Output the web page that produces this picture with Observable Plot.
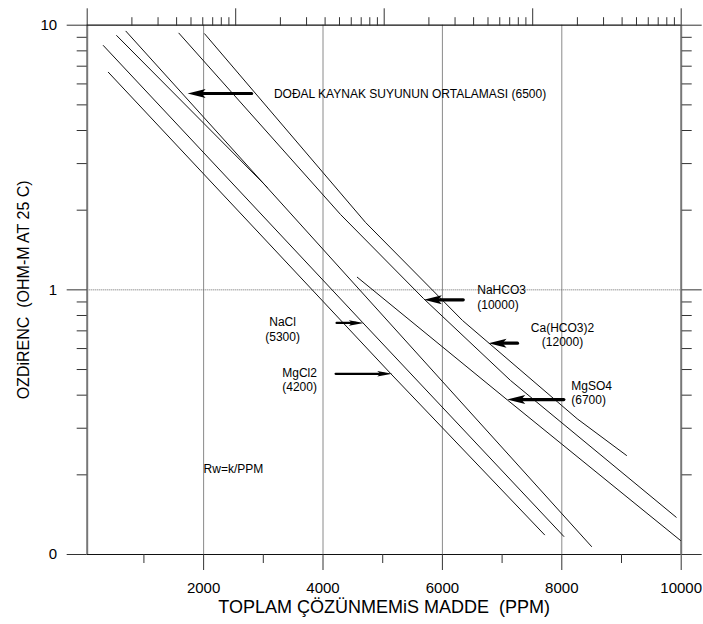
<!DOCTYPE html>
<html><head><meta charset="utf-8">
<script src="https://cdn.jsdelivr.net/npm/d3@7"></script>
<script src="https://cdn.jsdelivr.net/npm/@observablehq/plot@0.6"></script>
<style>
html,body{margin:0;padding:0;background:#fff;}
svg text{white-space:pre;}
</style></head><body><div id="chart"></div>
<script>
// ---- axes / ticks ----
const xDomain = [50, 10000];
const yDomain = [0.1, 10];
const xMajorTicks = [2000, 4000, 6000, 8000, 10000];
const xMinorTicks = [1000, 3000, 5000, 7000, 9000];
const xGrid = [2000, 4000, 6000, 8000];
const yMajorTicks = [0.1, 1, 10];
const yTickLabels = ["0", "1", "10"];
const yMinorTicks = [0.2,0.3,0.4,0.5,0.6,0.7,0.8,0.9,2,3,4,5,6,7,8,9];
const topLogDomain = [1, 10000];

// ---- series (PPM, ohm-m) ----
const naclX   = [320, 4663, 8034];
const naclY   = [8.38, 0.753, 0.117];
const mgcl2X  = [404, 5132, 7711];
const mgcl2Y  = [6.64, 0.483, 0.1187];
const dogalX  = [543, 3067];
const dogalY  = [9.14, 2.44];
const line4X  = [699, 8498];
const line4Y  = [9.49, 0.1072];
const nahco3X = [1586, 4294, 5684, 7141, 9916];
const nahco3Y = [9.33, 1.926, 0.927, 0.4545, 0.1383];
const cahco3X = [2017, 4713, 6337, 8258, 9084];
const cahco3Y = [9.28, 1.797, 0.766, 0.3257, 0.2367];
const mgso4X  = [4574, 7086, 9988];
const mgso4Y  = [1.116, 0.384, 0.113];

// ---- annotations ----
const leftArrowX1 = [2804, 6349, 7258, 8034];
const leftArrowX2 = [1732, 5689, 6773, 7086];
const leftArrowY  = [5.52, 0.917, 0.629, 0.385];
const rightArrowX1 = [4227, 4211];
const rightArrowX2 = [4684, 5160];
const rightArrowY  = [0.75, 0.4818];

const labelStartText = ["DOĐAL KAYNAK SUYUNUN ORTALAMASI (6500)", "NaHCO3\n(10000)", "MgSO4\n(6700)", "Rw=k/PPM"];
const labelStartX = [3177, 6584, 8158, 2000];
const labelStartY = [5.53, 0.942, 0.4088, 0.2118];
const labelMidText = ["Ca(HCO3)2\n(12000)", "NaCl\n(5300)", "MgCl2\n(4200)"];
const labelMidX = [8012, 3323, 3608];
const labelMidY = [0.68, 0.7124, 0.4596];

const xTitle = "TOPLAM ÇÖZÜNMEMiS MADDE  (PPM)";
const yTitle = "OZDiRENC  (OHM-M AT 25 C)";

// ---- build tables ----
const series = [
  ["NaCl", naclX, naclY], ["MgCl2", mgcl2X, mgcl2Y], ["Dogal", dogalX, dogalY],
  ["L4", line4X, line4Y], ["NaHCO3", nahco3X, nahco3Y], ["CaHCO3", cahco3X, cahco3Y],
  ["MgSO4", mgso4X, mgso4Y]
];
const lineData = series.flatMap(([name, xs, ys]) => xs.map((x, i) => ({name, x, y: ys[i]})));
const leftArrows = leftArrowX1.map((x1, i) => ({x1, x2: leftArrowX2[i], y: leftArrowY[i]}));
const rightArrows = rightArrowX1.map((x1, i) => ({x1, x2: rightArrowX2[i], y: rightArrowY[i]}));
const startLabels = labelStartText.map((t, i) => ({t, x: labelStartX[i], y: labelStartY[i]}));
const midLabels = labelMidText.map((t, i) => ({t, x: labelMidX[i], y: labelMidY[i]}));

const topScale = d3.scaleLog().domain(topLogDomain).range(xDomain);
const topAll = topScale.ticks();
const isPow10 = v => Math.abs(Math.log10(v) - Math.round(Math.log10(v))) < 1e-9;
const topMajor = topAll.filter(isPow10).map(topScale);
const topMinor = topAll.filter(v => !isPow10(v)).map(topScale);
const yLabelMap = new Map(yMajorTicks.map((v, i) => [v, yTickLabels[i]]));
const blank = () => "";
const tickColor = "#333";

// arrowhead symbol: tip at origin, body toward +x, notched back
const headSymbol = (L, W, notch) => ({
  draw(ctx) {
    ctx.moveTo(0, 0);
    ctx.lineTo(L, -W / 2);
    ctx.lineTo(L - notch, 0);
    ctx.lineTo(L, W / 2);
    ctx.closePath();
  }
});

const chart = Plot.plot({
  width: 703, height: 624,
  marginLeft: 86.7, marginRight: 22.3, marginTop: 24.7, marginBottom: 70,
  x: {type: "linear", domain: xDomain, range: [86.7, 680.7]},
  y: {type: "log", domain: yDomain, range: [554, 24.7]},
  style: {fontFamily: "Arial, 'Liberation Sans', sans-serif", fontSize: "15px", background: "#fff", color: "#000"},
  marks: [
    Plot.ruleX(xGrid, {stroke: "#8a8a8a", strokeWidth: 1}),
    Plot.ruleY([1], {stroke: "#666", strokeWidth: 1, strokeDasharray: "1,1"}),
    Plot.ruleX([xDomain[0], xDomain[1]], {stroke: "#777", strokeWidth: 2}),
    Plot.ruleY([yDomain[0], yDomain[1]], {stroke: "#111", strokeWidth: 1.2}),
    // bottom axis
    Plot.axisX(xMajorTicks, {anchor: "bottom", tickSize: 16, tickPadding: 12, fontSize: 15, stroke: tickColor, tickFormat: d => `${d}`, label: null}),
    Plot.axisX(xMinorTicks, {anchor: "bottom", tickSize: 9, stroke: tickColor, tickFormat: blank, label: null}),
    // top log axis
    Plot.axisX(topMajor, {anchor: "top", tickSize: 17.4, stroke: tickColor, tickFormat: blank, label: null}),
    Plot.axisX(topMinor, {anchor: "top", tickSize: 8.5, stroke: tickColor, tickFormat: blank, label: null}),
    // left axis
    Plot.axisY(yMajorTicks, {anchor: "left", tickSize: 20, tickPadding: 10, fontSize: 15, stroke: tickColor, tickFormat: d => yLabelMap.get(d), label: null}),
    Plot.axisY(yMinorTicks, {anchor: "left", tickSize: 10, stroke: tickColor, tickFormat: blank, label: null}),
    // right axis
    Plot.axisY(yMajorTicks, {anchor: "right", tickSize: 20, stroke: tickColor, tickFormat: blank, label: null}),
    Plot.axisY(yMinorTicks, {anchor: "right", tickSize: 10, stroke: tickColor, tickFormat: blank, label: null}),
    // data lines
    Plot.line(lineData, {x: "x", y: "y", z: "name", stroke: "#111", strokeWidth: 1}),
    // arrows: shafts + filled heads
    Plot.arrow(leftArrows, {x1: "x1", x2: "x2", y1: "y", y2: "y", stroke: "#000", strokeWidth: 3.2, headLength: 0, insetEnd: 10}),
    Plot.dot(leftArrows, {x: "x2", y: "y", symbol: headSymbol(18, 9, 4), fill: "#000", stroke: "none"}),
    Plot.arrow(rightArrows, {x1: "x1", x2: "x2", y1: "y", y2: "y", stroke: "#000", strokeWidth: 2.2, headLength: 0, insetEnd: 8}),
    Plot.dot(rightArrows, {x: "x2", y: "y", symbol: headSymbol(15, 5.5, 3), rotate: 180, fill: "#000", stroke: "none"}),
    // labels
    Plot.text(startLabels, {x: "x", y: "y", text: "t", textAnchor: "start", fontSize: 12, lineHeight: 1.2, fill: "#000"}),
    Plot.text(midLabels, {x: "x", y: "y", text: "t", textAnchor: "middle", fontSize: 12, lineHeight: 1.2, fill: "#000"}),
    // axis titles
    Plot.text([xTitle], {text: d => d, frameAnchor: "bottom", dy: 58.5, fontSize: 18, fill: "#000"}),
    Plot.text([yTitle], {text: d => d, frameAnchor: "left", textAnchor: "middle", rotate: -90, dx: -63.5, fontSize: 16, fill: "#000"})
  ]
});
document.getElementById("chart").appendChild(chart);
</script></body></html>
